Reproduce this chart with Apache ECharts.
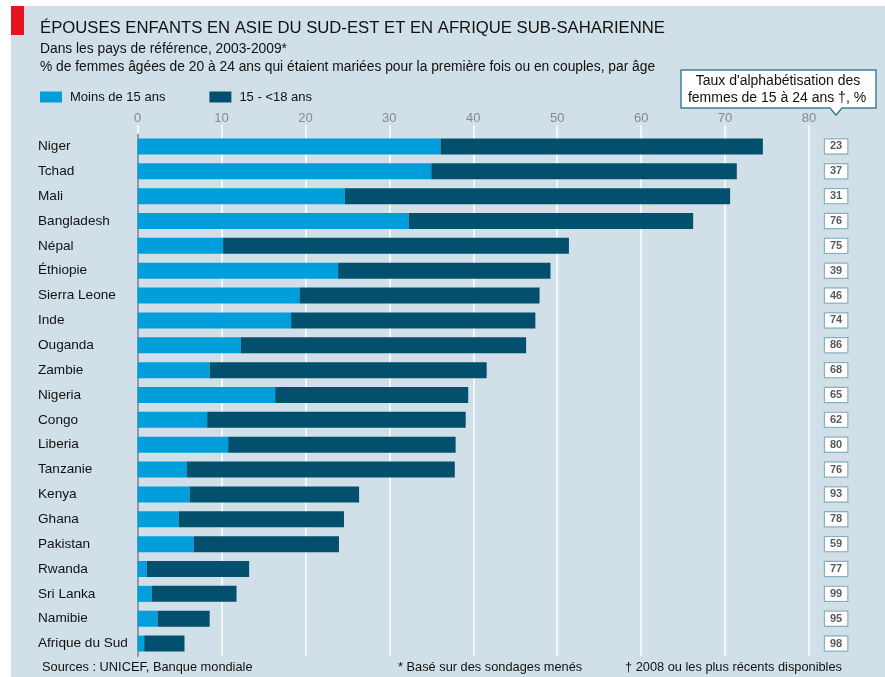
<!DOCTYPE html>
<html lang="fr">
<head>
<meta charset="utf-8">
<title>Épouses enfants</title>
<script src="https://cdn.jsdelivr.net/npm/echarts@6/dist/echarts.min.js"></script>
<style>
  html, body { margin: 0; padding: 0; background: #fff; }
  #chart {
    width: 885px; height: 677px;
    background: #fff linear-gradient(#d0dfe8, #d0dfe8) 11px 6px / 874px 671px no-repeat;
  }
</style>
</head>
<body>
<div id="chart"></div>
<script>
// Pays classés par part de femmes mariées avant 18 ans
const countries = ['Niger', 'Tchad', 'Mali', 'Bangladesh', 'Népal', 'Éthiopie', 'Sierra Leone', 'Inde',
  'Ouganda', 'Zambie', 'Nigeria', 'Congo', 'Liberia', 'Tanzanie', 'Kenya', 'Ghana', 'Pakistan',
  'Rwanda', 'Sri Lanka', 'Namibie', 'Afrique du Sud'];

// % de femmes de 20 à 24 ans mariées avant 15 ans
const under15 = [36.1, 35.0, 24.7, 32.3, 10.2, 23.9, 19.3, 18.3, 12.3, 8.6, 16.4, 8.3, 10.8, 5.9,
  6.2, 4.9, 6.7, 1.1, 1.7, 2.4, 0.8];

// % mariées entre 15 et 18 ans
const from15to18 = [38.4, 36.4, 45.9, 33.9, 41.2, 25.3, 28.6, 29.1, 34.0, 33.0, 23.0, 30.8, 27.1, 31.9,
  20.2, 19.7, 17.3, 12.2, 10.1, 6.2, 4.8];

// Taux d'alphabétisation des femmes de 15 à 24 ans, %
const literacy = [23, 37, 31, 76, 75, 39, 46, 74, 86, 68, 65, 62, 80, 76, 93, 78, 59, 77, 99, 95, 98];

// Échelle horizontale
const xMin = 0, xMax = 80, xStep = 10;

const seriesNames = ['Moins de 15 ans', '15 - <18 ans'];
const colLight = '#009fdc';
const colDark = '#02506e';
const FONT = '"Liberation Sans", Arial, sans-serif';

const chart = echarts.init(document.getElementById('chart'), null, { renderer: 'canvas' });

function note(text, x, y, size, align) {
  return { type: 'text', x: x, y: y, z: 11,
    style: { text: text, fill: '#111', fontSize: size, fontFamily: FONT,
      align: align || 'left', verticalAlign: 'middle' } };
}

chart.setOption({
  backgroundColor: 'transparent',
  textStyle: { fontFamily: FONT },
  animation: false,
  title: [
    { text: 'ÉPOUSES ENFANTS EN ASIE DU SUD-EST ET EN AFRIQUE SUB-SAHARIENNE', left: 40, top: 20, padding: 0,
      textStyle: { fontSize: 16.7, fontWeight: 'normal', color: '#111', fontFamily: FONT } },
    { text: 'Dans les pays de référence, 2003-2009*', left: 40, top: 42, padding: 0,
      textStyle: { fontSize: 13.8, fontWeight: 'normal', color: '#111', fontFamily: FONT } },
    { text: '% de femmes âgées de 20 à 24 ans qui étaient mariées pour la première fois ou en couples, par âge',
      left: 40, top: 60, padding: 0,
      textStyle: { fontSize: 13.8, fontWeight: 'normal', color: '#111', fontFamily: FONT } }
  ],
  legend: {
    data: seriesNames,
    left: 35, top: 85.5,
    itemWidth: 22, itemHeight: 11, itemGap: 44,
    icon: 'rect',
    textStyle: { fontSize: 13, color: '#111', fontFamily: FONT, padding: [0, 0, 0, 3] }
  },
  grid: { left: 137.5, right: 76, top: 134, height: 522, containLabel: false },
  xAxis: {
    type: 'value', position: 'top',
    min: xMin, max: xMax, interval: xStep,
    axisLine: { show: false },
    axisTick: { show: true, length: 9, lineStyle: { color: '#ffffff', width: 1.5 } },
    axisLabel: { color: '#888', fontSize: 13, margin: 9, fontFamily: FONT },
    splitLine: { show: true, lineStyle: { color: '#ffffff', width: 1.5 } }
  },
  yAxis: [
    {
      type: 'category', data: countries, inverse: true,
      axisLine: { show: true, lineStyle: { color: '#8d9ba4', width: 2 } },
      axisTick: { show: false },
      axisLabel: { align: 'left', margin: 99.5, color: '#111', fontSize: 13.6, fontFamily: FONT }
    },
    {
      type: 'category', data: countries, inverse: true, position: 'right',
      axisLine: { show: false }, axisTick: { show: false },
      axisLabel: {
        align: 'left', margin: 16,
        formatter: (v, i) => String(literacy[i]),
        color: '#5a5a5a', fontSize: 11, fontWeight: 'bold', fontFamily: FONT,
        backgroundColor: '#ffffff', borderColor: '#86b0c0', borderWidth: 1.2,
        padding: [2, 5, 1, 5]
      }
    }
  ],
  series: [
    { name: seriesNames[0], type: 'bar', stack: 'total', data: under15, barWidth: 16,
      itemStyle: { color: colLight } },
    { name: seriesNames[1], type: 'bar', stack: 'total', data: from15to18, barWidth: 16,
      itemStyle: { color: colDark } }
  ],
  graphic: [
    { type: 'rect', left: 11, top: 6, shape: { width: 13, height: 29 }, style: { fill: '#e3141b' }, z: 10 },
    { type: 'polygon', z: 10,
      shape: { points: [[681, 70], [876, 70], [876, 108], [842, 108], [836, 115], [830, 108], [681, 108]] },
      style: { fill: '#ffffff', stroke: '#3f8096', lineWidth: 1.5 } },
    note("Taux d'alphabétisation des", 778, 81, 14, 'center'),
    note('femmes de 15 à 24 ans †, %', 777, 98, 14, 'center'),
    note('Sources : UNICEF, Banque mondiale', 42, 667, 12.8),
    note('* Basé sur des sondages menés', 398, 667, 12.8),
    note('† 2008 ou les plus récents disponibles', 625, 667, 12.8)
  ]
});
</script>
</body>
</html>
